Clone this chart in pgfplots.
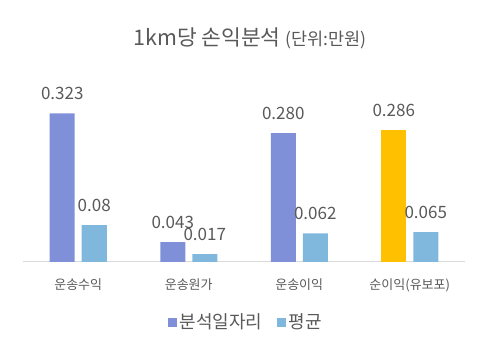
\documentclass[border=0pt]{standalone}
\usepackage{pgfplots}
\pgfplotsset{compat=1.18}
\usepackage{fontspec}
\setmainfont{Noto Sans CJK KR}
\definecolor{sA}{RGB}{128,144,216}
\definecolor{sB}{RGB}{127,184,220}
\definecolor{gold}{RGB}{255,192,0}
\definecolor{txt}{RGB}{89,89,89}
\definecolor{axl}{RGB}{217,217,217}
\begin{document}
\begin{tikzpicture}[x=1pt,y=1pt]
\path[use as bounding box] (0,0) rectangle (488,351);
\node[text=txt,anchor=center] at (250,313) {\fontsize{21.5}{24}\selectfont 1km당 손익분석 \fontsize{17.5}{20}\selectfont(단위:만원)};
\begin{axis}[
  at={(23pt,89pt)}, anchor=south west,
  scale only axis, width=442pt, height=161pt,
  xmin=-0.5, xmax=3.5, ymin=0, ymax=0.35,
  axis y line=none,
  axis x line*=bottom,
  x axis line style={draw=axl, line width=1pt, -},
  xtick={0,1,2,3},
  xticklabels={운송수익,운송원가,운송이익,순이익(유보포)},
  xticklabel style={text=txt, font=\fontsize{13}{15}\selectfont, yshift=-13pt},
  major tick length=0pt,
  ybar, bar width=25pt,
  point meta=explicit symbolic,
  nodes near coords,
  nodes near coords style={text=txt, font=\fontsize{17}{20}\selectfont, anchor=south, yshift=10pt},
  legend style={at={(0.505,-0.373)}, anchor=center, draw=none, fill=none,
    legend columns=2, font=\fontsize{18}{21}\selectfont, text=txt,
    nodes={inner xsep=3pt},
    /tikz/every odd column/.append style={column sep=0pt},
    /tikz/every even column/.append style={column sep=0pt}},
  legend image code/.code={\fill[#1] (0pt,-4.5pt) rectangle (9pt,4.5pt);},
]
\addplot[fill=sA, draw=none, bar shift=-16pt] coordinates {(0,0.323) [0.323] (1,0.043) [0.043] (2,0.280) [0.280]};
\addlegendentry{\hbox{분석일자리\kern11pt}}
\addplot[fill=sB, draw=none, bar shift=16pt] coordinates {(0,0.08) [0.08] (1,0.017) [0.017] (2,0.062) [0.062] (3,0.065) [0.065]};
\addlegendentry{평균}
\addplot[fill=gold, draw=none, bar shift=-16pt, forget plot] coordinates {(3,0.286) [0.286]};
\end{axis}
\end{tikzpicture}
\end{document}
